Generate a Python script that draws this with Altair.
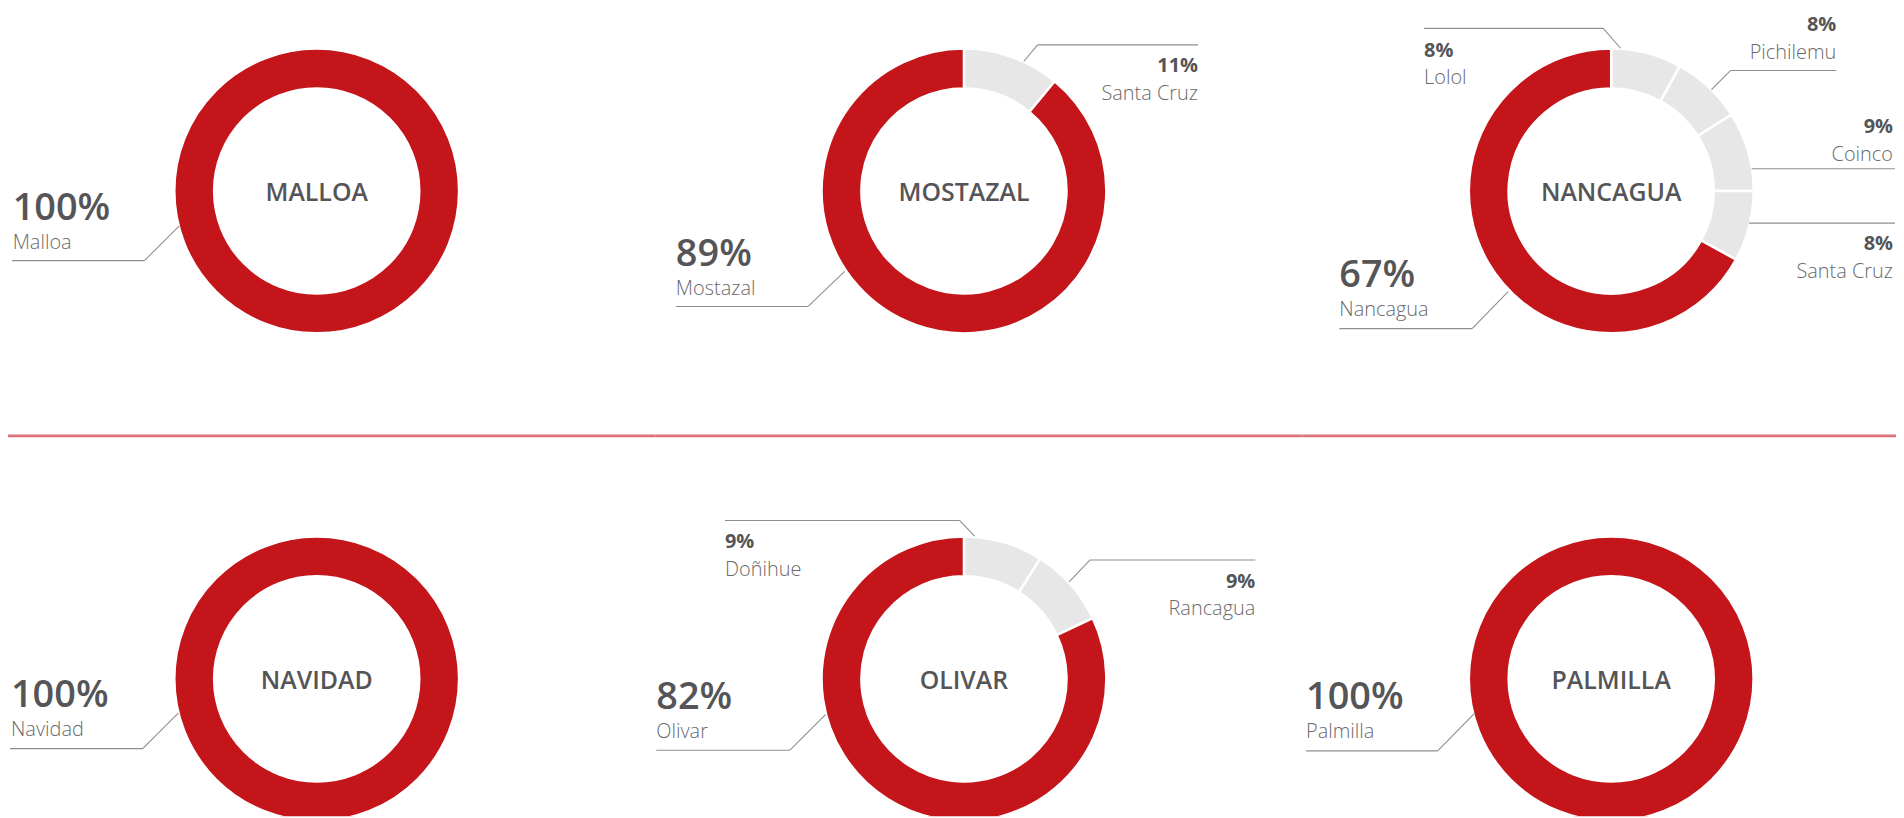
import altair as alt
import pandas as pd

# ---------------- data ----------------
comunas = ["MALLOA", "MOSTAZAL", "NANCAGUA", "NAVIDAD", "OLIVAR", "PALMILLA"]
main_names = ["Malloa", "Mostazal", "Nancagua", "Navidad", "Olivar", "Palmilla"]

malloa_names = ["Malloa"]
malloa_values = [100]
mostazal_names = ["Santa Cruz", "Mostazal"]
mostazal_values = [11, 89]
nancagua_names = ["Lolol", "Pichilemu", "Coinco", "Santa Cruz", "Nancagua"]
nancagua_values = [8, 8, 9, 8, 67]
navidad_names = ["Navidad"]
navidad_values = [100]
olivar_names = ["Doñihue", "Rancagua", "Olivar"]
olivar_values = [9, 9, 82]
palmilla_names = ["Palmilla"]
palmilla_values = [100]

series = [
    (malloa_names, malloa_values),
    (mostazal_names, mostazal_values),
    (nancagua_names, nancagua_values),
    (navidad_names, navidad_values),
    (olivar_names, olivar_values),
    (palmilla_names, palmilla_values),
]

# ---------------- style / layout ----------------
FONT = "Open Sans"
RED = "#C4151A"
GRAY = "#E7E7E7"
DARK = "#555558"
NAME = "#6A6A6C"
LEADER = "#8E8E8E"
SEP = "#DD7377"

PANEL_W = [650, 650, 596]
ROW_H = [420, 390]
CX = 310
CY = [182, 252]
TITLE_Y = [192, 262]
R_OUT, R_IN = 143, 103

# label layout per comuna: name -> (x, y of percent baseline, align, big, leader points)
LABELS = {
    "MALLOA": {
        "Malloa": (4.7, 211, "left", True, [(4, 252), (137, 252), (172, 217)]),
    },
    "MOSTAZAL": {
        "Santa Cruz": (545, 62.7, "right", False, [(545, 35.3), (384, 35.3), (370, 52)]),
        "Mostazal": (20.7, 257, "left", True, [(20.7, 298), (153.5, 298), (190.2, 262.7)]),
    },
    "NANCAGUA": {
        "Lolol": (122, 47, "left", False, [(122, 18.7), (302, 18.7), (319.4, 38.7)]),
        "Pichilemu": (536, 21.3, "right", False, [(536, 61), (430, 61), (410.7, 80.3)]),
        "Coinco": (593, 123.7, "right", False, [(595, 159.7), (451, 159.7)]),
        "Santa Cruz": (593, 241.3, "right", False, [(595, 214.3), (448.5, 214.3)]),
        "Nancagua": (37, 278.7, "left", True, [(37, 320.3), (170.3, 320.3), (206.5, 283)]),
    },
    "NAVIDAD": {
        "Navidad": (3, 280.3, "left", True, [(2, 322), (135.3, 322), (171, 286.3)]),
    },
    "OLIVAR": {
        "Doñihue": (70, 120.3, "left", False, [(70, 93), (305.8, 93), (320.7, 108.7)]),
        "Rancagua": (602.6, 160.3, "right", False, [(602.6, 132.7), (436.4, 132.7), (415.6, 154.7)]),
        "Olivar": (1, 282, "left", True, [(1, 323.7), (135, 323.7), (171, 288)]),
    },
    "PALMILLA": {
        "Palmilla": (3.6, 282, "left", True, [(3.6, 324.3), (135.7, 324.3), (173, 286.3)]),
    },
}

one = pd.DataFrame({"k": [0]})


def panel(i):
    comuna = comunas[i]
    names, values = series[i]
    row, col = divmod(i, 3)
    w, h = PANEL_W[col], ROW_H[row]
    cy = CY[row]

    df = pd.DataFrame({
        "name": names,
        "value": values,
        "order": list(range(len(names))),
        "kind": ["main" if n == main_names[i] else "other" for n in names],
        "pct": [f"{v}%" for v in values],
    })

    layers = []
    if row == 1:
        layers.append(
            alt.Chart(one).mark_rect(color=SEP).encode(
                x=alt.value(0), x2=alt.value(w), y=alt.value(6.7), y2=alt.value(9.3)
            )
        )

    arcs = alt.Chart(df).mark_arc(
        innerRadius=R_IN, outerRadius=R_OUT, stroke="white", strokeWidth=2.5, clip=True
    ).encode(
        theta=alt.Theta("value:Q", stack=True),
        order=alt.Order("order:Q"),
        color=alt.Color("kind:N", scale=alt.Scale(domain=["main", "other"], range=[RED, GRAY]), legend=None),
        x=alt.value(CX),
        y=alt.value(cy),
    )
    layers.append(arcs)

    title = alt.Chart(pd.DataFrame({"t": [comuna]})).mark_text(
        font=FONT, fontSize=25, fontWeight=600, color=DARK, align="center", baseline="alphabetic"
    ).encode(text="t:N", x=alt.value(CX), y=alt.value(TITLE_Y[row]))
    layers.append(title)

    for n, (x, y, align, big, pts) in LABELS[comuna].items():
        sub = df[df["name"] == n]
        layers.append(
            alt.Chart(sub).mark_text(
                font=FONT, fontSize=38 if big else 20, fontWeight=600 if big else 700,
                color=DARK, align=align, baseline="alphabetic"
            ).encode(text="pct:N", x=alt.value(x), y=alt.value(y))
        )
        layers.append(
            alt.Chart(sub).mark_text(
                font=FONT, fontSize=20, fontWeight=300, color=NAME, align=align, baseline="alphabetic"
            ).encode(text="name:N", x=alt.value(x), y=alt.value(y + (29 if big else 28)))
        )
        for (x1, y1), (x2, y2) in zip(pts[:-1], pts[1:]):
            layers.append(
                alt.Chart(one).mark_rule(color=LEADER, strokeWidth=1.1).encode(
                    x=alt.value(x1), y=alt.value(y1), x2=alt.value(x2), y2=alt.value(y2)
                )
            )

    return alt.layer(*layers).properties(width=w, height=h)


top = alt.hconcat(panel(0), panel(1), panel(2), spacing=0, bounds="flush")
bottom = alt.hconcat(panel(3), panel(4), panel(5), spacing=0, bounds="flush")

chart = alt.vconcat(top, bottom, spacing=0).properties(
    padding=0, background="white"
).configure_view(stroke=None).configure_concat(spacing=0)

chart.save("out.html", embed_options={"renderer": "svg", "actions": False})
